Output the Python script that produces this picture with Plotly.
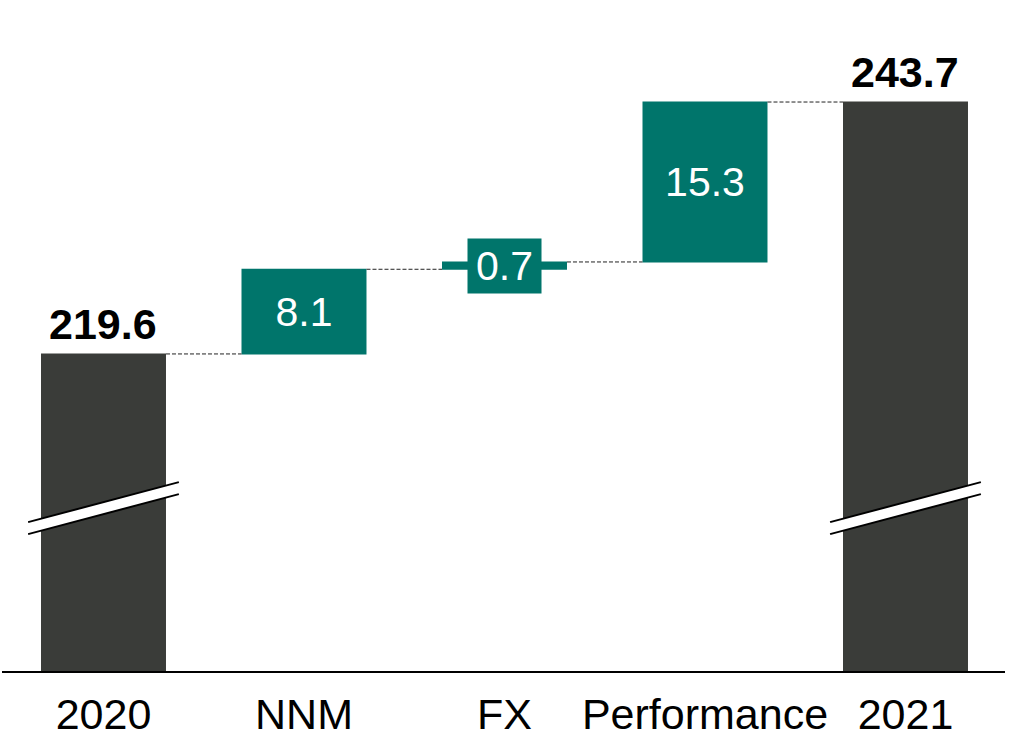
import plotly.graph_objects as go

# Assets under management bridge, CHF bn
categories = ["2020", "NNM", "FX", "Performance", "2021"]
measures = ["absolute", "relative", "relative", "relative", "total"]
values = [219.6, 8.1, 0.7, 15.3, 0]
total_2021 = 243.7

DARK = "#3a3c39"
TEAL = "#00756b"
FONT = "Arial, Liberation Sans, sans-serif"

# visible part of the value axis (the axis is broken below this)
y_min, y_max = 189.27, 253.46
px_per_unit = 671 / (y_max - y_min)

x_idx = list(range(len(categories)))

inside_text = ["", f"{values[1]}", "", f"{values[3]}", ""]
text_pos = ["none", "inside", "none", "inside", "none"]

fig = go.Figure()
fig.add_trace(go.Waterfall(
    x=x_idx,
    y=values,
    measure=measures,
    text=inside_text,
    textposition=text_pos,
    insidetextanchor="middle",
    insidetextfont=dict(family=FONT, size=41, color="white"),
    constraintext="none",
    increasing=dict(marker=dict(color=TEAL)),
    decreasing=dict(marker=dict(color=TEAL)),
    totals=dict(marker=dict(color=DARK)),
    connector=dict(mode="between", line=dict(color="#222222", width=1, dash="4px,2px")),
    hoverinfo="skip",
))

# bold totals above the dark bars
for xi, v in [(0, values[0]), (4, total_2021)]:
    fig.add_annotation(x=xi, y=v, xref="x", yref="y", text=f"<b>{v}</b>",
                       showarrow=False, yanchor="bottom", yshift=4,
                       font=dict(family=FONT, size=43, color="black"))

# FX change is too thin for an inside label: boxed label on the bar
fx_mid = values[0] + values[1] + values[2] / 2
fig.add_annotation(x=2, y=fx_mid, xref="x", yref="y", text=f"{values[2]}",
                   showarrow=False, bgcolor=TEAL, width=71, height=52,
                   font=dict(family=FONT, size=41, color="white"))

# axis-break marks across the two total bars
half_w = 0.376
break_y = 204.85
rise = 40 / px_per_unit / 2
gap = 12 / px_per_unit / 2
for xi in (0, 4):
    x0, x1 = xi - half_w, xi + half_w
    fig.add_shape(type="path", xref="x", yref="y",
                  path=(f"M {x0} {break_y - rise + gap} L {x1} {break_y + rise + gap} "
                        f"L {x1} {break_y + rise - gap} L {x0} {break_y - rise - gap} Z"),
                  fillcolor="white", line=dict(width=0), layer="above")
    for s in (gap, -gap):
        fig.add_shape(type="line", xref="x", yref="y",
                      x0=x0, y0=break_y - rise + s, x1=x1, y1=break_y + rise + s,
                      line=dict(color="black", width=2), layer="above")

fig.update_layout(
    width=1009, height=739,
    margin=dict(l=2, r=4, t=0, b=68),
    paper_bgcolor="white", plot_bgcolor="white",
    showlegend=False,
    waterfallgap=0.3766,
    xaxis=dict(range=[-0.5062, 4.4963], tickmode="array", tickvals=x_idx,
               ticktext=categories, showgrid=False, zeroline=False,
               showline=True, linecolor="black", linewidth=2, ticks="",
               ticklabelstandoff=4,
               tickfont=dict(family=FONT, size=43, color="black")),
    yaxis=dict(range=[y_min, y_max], visible=False, showgrid=False),
)

fig.write_html("out.html")
